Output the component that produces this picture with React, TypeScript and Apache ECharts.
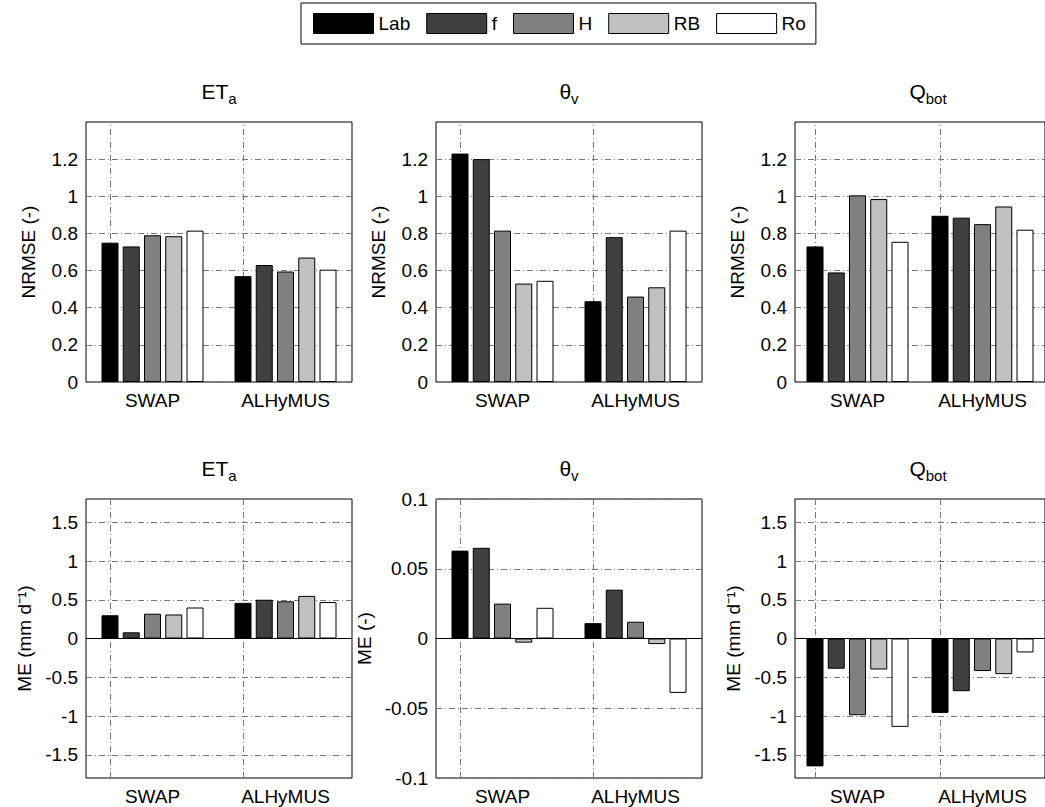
import React, { useEffect, useRef } from "react";
import * as echarts from "echarts";

const models = ["Lab", "f", "H", "RB", "Ro"];
const colors = ["#000000", "#404040", "#808080", "#c0c0c0", "#ffffff"];
const categories = ["SWAP", "ALHyMUS"];

// [model][category]
const nrmseET = [[0.75, 0.57], [0.73, 0.63], [0.79, 0.595], [0.785, 0.67], [0.815, 0.605]];
const nrmseTheta = [[1.23, 0.435], [1.2, 0.78], [0.815, 0.46], [0.53, 0.51], [0.545, 0.815]];
const nrmseQ = [[0.73, 0.895], [0.59, 0.885], [1.005, 0.85], [0.985, 0.945], [0.755, 0.82]];
const meET = [[0.3, 0.46], [0.08, 0.5], [0.32, 0.48], [0.31, 0.55], [0.4, 0.47]];
const meTheta = [[0.063, 0.011], [0.065, 0.035], [0.025, 0.012], [-0.003, -0.004], [0.022, -0.039]];
const meQ = [[-1.65, -0.96], [-0.39, -0.68], [-0.99, -0.42], [-0.4, -0.46], [-1.14, -0.18]];

const ticksTop = [0, 0.2, 0.4, 0.6, 0.8, 1, 1.2];
const ticksMe = [-1.5, -1, -0.5, 0, 0.5, 1, 1.5];
const ticksTheta = [-0.1, -0.05, 0, 0.05, 0.1];

const FONT = "Liberation Sans";
const FS = 19;
const gridLine = { color: "#777", width: 1, type: [6, 3, 1, 3] as any };

export default function App() {
  const ref = useRef<HTMLDivElement>(null);
  useEffect(() => {
    const chart = echarts.init(ref.current!, null, { renderer: "svg" });
    const panels = [
      { data: nrmseET, left: 86, top: 122, h: 260, min: 0, max: 1.4, ticks: ticksTop, name: "NRMSE (-)", title: ["ET", "a"], neg: false },
      { data: nrmseTheta, left: 436, top: 122, h: 260, min: 0, max: 1.4, ticks: ticksTop, name: "NRMSE (-)", title: ["θ", "v"], neg: false },
      { data: nrmseQ, left: 795, top: 122, h: 260, min: 0, max: 1.4, ticks: ticksTop, name: "NRMSE (-)", title: ["Q", "bot"], neg: false },
      { data: meET, left: 86, top: 499, h: 279, min: -1.8, max: 1.8, ticks: ticksMe, name: "ME (mm d⁻¹)", title: ["ET", "a"], neg: true },
      { data: meTheta, left: 436, top: 499, h: 279, min: -0.1, max: 0.1, ticks: ticksTheta, name: "ME (-)", title: ["θ", "v"], neg: true },
      { data: meQ, left: 795, top: 499, h: 279, min: -1.8, max: 1.8, ticks: ticksMe, name: "ME (mm d⁻¹)", title: ["Q", "bot"], neg: true },
    ];
    const W = 266;
    const grid: any[] = [], xAxis: any[] = [], yAxis: any[] = [], series: any[] = [], graphic: any[] = [];
    panels.forEach((p, i) => {
      grid.push({ left: p.left, top: p.top, width: W, height: p.h, show: true, borderColor: "#000", borderWidth: 1, backgroundColor: "transparent" });
      xAxis.push({
        type: "category", gridIndex: i, data: categories,
        axisLine: { show: false, onZero: false }, axisTick: { show: false },
        axisLabel: { color: "#000", fontSize: FS, fontFamily: FONT, margin: 9 },
        splitLine: { show: false },
      });
      yAxis.push({
        type: "value", gridIndex: i, min: p.min, max: p.max,
        axisLine: { show: false }, axisTick: { show: false },
        axisLabel: { color: "#000", fontSize: FS, fontFamily: FONT, margin: 8, customValues: p.ticks, formatter: (v: number) => String(Math.round(v * 1000) / 1000) },
        splitLine: { show: false },
        name: p.name, nameLocation: "middle", nameGap: p.neg ? (p.max < 1 ? 62 : 52) : 48,
        nameTextStyle: { color: "#000", fontSize: FS, fontFamily: FONT },
      });
      const marks: any[] = [{ xAxis: 0 }, { xAxis: 1 }];
      p.ticks.forEach((t) => { if (!(p.neg && t === 0)) marks.push({ yAxis: t }); });
      p.data.forEach((vals, m) => {
        const s: any = {
          type: "bar", name: models[m], xAxisIndex: i, yAxisIndex: i, data: vals,
          barWidth: 17, barGap: "25%",
          itemStyle: { color: colors[m], borderColor: "#000", borderWidth: 1 },
        };
        if (m === 0) {
          s.markLine = { silent: true, symbol: "none", label: { show: false }, lineStyle: gridLine, data: marks, z: 0 };
        }
        if (m === 1 && p.neg) {
          s.markLine = { silent: true, symbol: "none", label: { show: false }, lineStyle: { color: "#000", width: 1, type: "solid" }, data: [{ yAxis: 0 }] };
        }
        series.push(s);
      });
      graphic.push({
        type: "text", x: p.left + W / 2, y: p.top - 44,
        style: {
          text: `{a|${p.title[0]}}{b|${p.title[1]}}`, align: "center",
          rich: {
            a: { fontSize: 21, fontFamily: FONT, fill: "#000", lineHeight: 26 },
            b: { fontSize: 15, fontFamily: FONT, fill: "#000", padding: [14, 0, 0, 0], lineHeight: 26 },
          },
        },
      });
    });
    chart.setOption({
      animation: false,
      backgroundColor: "#fff",
      grid, xAxis, yAxis, series, graphic,
      legend: {
        data: models, left: 301, top: 3, itemWidth: 60, itemHeight: 20, itemGap: 16, icon: "rect",
        borderColor: "#000", borderWidth: 1, padding: [10, 10, 10, 12],
        textStyle: { color: "#000", fontSize: FS, fontFamily: FONT },
        itemStyle: { borderColor: "#000", borderWidth: 1 },
        selectedMode: false,
      },
    });
    return () => chart.dispose();
  }, []);
  return <div ref={ref} style={{ position: "absolute", left: 0, top: 0, width: 1045, height: 807 }} />;
}
